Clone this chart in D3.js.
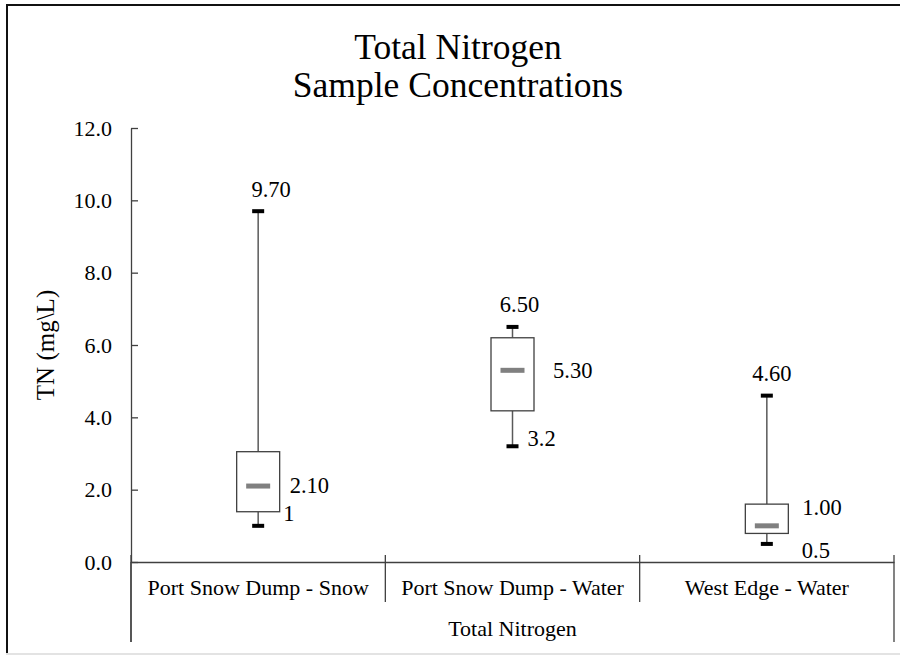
<!DOCTYPE html>
<html>
<head>
<meta charset="utf-8">
<script src="https://cdn.jsdelivr.net/npm/d3@7"></script>
<style>
  body { margin: 0; background: #fff; }
</style>
</head>
<body>
<div id="app"></div>
<script>
// box plot values
const categories = ["Port Snow Dump - Snow", "Port Snow Dump - Water", "West Edge - Water"];
const minValues = [1.0, 3.2, 0.5];
const q1Values = [1.39, 4.18, 0.79];
const medianValues = [2.10, 5.30, 1.00];
const q3Values = [3.05, 6.20, 1.60];
const maxValues = [9.70, 6.50, 4.60];
const maxLabels = ["9.70", "6.50", "4.60"];
const medianLabels = ["2.10", "5.30", "1.00"];
const minLabels = ["1", "3.2", "0.5"];
const yTicks = [0, 2, 4, 6, 8, 10, 12];
const groupLabel = "Total Nitrogen";
const titleLines = ["Total Nitrogen", "Sample Concentrations"];
const yTitle = "TN (mg\\L)";

const w = 900, h = 655;
const plotLeft = 131, plotRight = 894, plotTop = 128, plotBottom = 562;
const serif = "'Liberation Serif', 'Times New Roman', serif";

const svg = d3.select("#app")
  .append("svg")
  .attr("width", w)
  .attr("height", h)
  .style("display", "block")
  .style("font-family", serif);

// frame of the screenshot
svg.append("line").attr("x1", 6).attr("x2", w).attr("y1", 5).attr("y2", 5)
  .attr("stroke", "#111").attr("stroke-width", 2);
svg.append("line").attr("x1", 7).attr("x2", 7).attr("y1", 4).attr("y2", 653)
  .attr("stroke", "#111").attr("stroke-width", 2);
svg.append("line").attr("x1", 6).attr("x2", w).attr("y1", 654).attr("y2", 654)
  .attr("stroke", "#e3e3e3").attr("stroke-width", 2);

const rows = categories.map((c, i) => ({
  cat: c, min: minValues[i], q1: q1Values[i], med: medianValues[i],
  q3: q3Values[i], max: maxValues[i],
  maxLabel: maxLabels[i], medLabel: medianLabels[i], minLabel: minLabels[i]
}));

const xScale = d3.scaleBand()
  .domain(categories)
  .range([plotLeft, plotRight]);

const yScale = d3.scaleLinear()
  .domain([0, 12])
  .range([plotBottom, plotTop]);

// title, two separate lines
svg.selectAll(".title")
  .data(titleLines)
  .enter()
  .append("text")
  .attr("class", "title")
  .attr("x", 458)
  .attr("y", (d, i) => 59 + i * 38)
  .attr("text-anchor", "middle")
  .style("font-family", serif)
  .style("font-size", "35.5px")
  .attr("fill", "#000")
  .text(d => d);

// y axis, ticks pointing into the plot
const yAxis = d3.axisLeft(yScale)
  .tickValues(yTicks)
  .tickFormat(d3.format(".1f"))
  .tickSizeInner(-7)
  .tickSizeOuter(0)
  .tickPadding(19);

const gy = svg.append("g")
  .attr("id", "y-axis")
  .attr("transform", "translate(" + plotLeft + ",0)")
  .call(yAxis)
  .attr("font-family", null)
  .attr("font-size", null);
gy.selectAll("path, line").attr("stroke", "#404040").attr("stroke-width", 1.3);
gy.selectAll("text").style("font-family", serif).style("font-size", "22px").attr("fill", "#000");

// axis line carries on down past the table
svg.append("line")
  .attr("x1", plotLeft).attr("x2", plotLeft)
  .attr("y1", plotBottom).attr("y2", 642)
  .attr("stroke", "#404040").attr("stroke-width", 1.3);

svg.append("text")
  .attr("transform", "translate(54," + (plotTop + plotBottom) / 2 + ") rotate(-90)")
  .attr("text-anchor", "middle")
  .style("font-family", serif)
  .style("font-size", "25px")
  .attr("fill", "#000")
  .text(yTitle);

// x axis as a small table
const xAxis = d3.axisBottom(xScale).tickSize(0).tickPadding(17);
const gx = svg.append("g")
  .attr("id", "x-axis")
  .attr("transform", "translate(0," + plotBottom + ")")
  .call(xAxis)
  .attr("font-family", null)
  .attr("font-size", null);
gx.select(".domain").attr("stroke", "#404040").attr("stroke-width", 1.3);
gx.selectAll("text").style("font-family", serif).style("font-size", "22px").attr("fill", "#000");

const edges = [xScale(categories[0])].concat(categories.map(c => xScale(c) + xScale.bandwidth()));
svg.selectAll(".divider")
  .data(edges)
  .enter()
  .append("line")
  .attr("class", "divider")
  .attr("x1", d => d).attr("x2", d => d)
  .attr("y1", plotBottom - 7)
  .attr("y2", (d, i) => (i === 0 || i === edges.length - 1) ? 642 : 602)
  .attr("stroke", "#404040")
  .attr("stroke-width", 1.3);

svg.append("text")
  .attr("x", (plotLeft + plotRight) / 2)
  .attr("y", 636)
  .attr("text-anchor", "middle")
  .style("font-family", serif)
  .style("font-size", "22px")
  .attr("fill", "#000")
  .text(groupLabel);

// boxes
const boxW = 43, capW = 12, medW = 24;
const cx = d => xScale(d.cat) + xScale.bandwidth() / 2;

const box = svg.selectAll(".box")
  .data(rows)
  .enter()
  .append("g")
  .attr("class", "box");

box.append("line")
  .attr("x1", cx).attr("x2", cx)
  .attr("y1", d => yScale(d.max)).attr("y2", d => yScale(d.q3))
  .attr("stroke", "#595959").attr("stroke-width", 1.5);
box.append("line")
  .attr("x1", cx).attr("x2", cx)
  .attr("y1", d => yScale(d.q1)).attr("y2", d => yScale(d.min))
  .attr("stroke", "#595959").attr("stroke-width", 1.5);

box.append("rect")
  .attr("x", d => cx(d) - boxW / 2)
  .attr("y", d => yScale(d.q3))
  .attr("width", boxW)
  .attr("height", d => yScale(d.q1) - yScale(d.q3))
  .attr("fill", "#fff")
  .attr("stroke", "#404040")
  .attr("stroke-width", 1.3);

box.append("rect")
  .attr("x", d => cx(d) - medW / 2)
  .attr("y", d => yScale(d.med) - 2.5)
  .attr("width", medW)
  .attr("height", 5)
  .attr("fill", "#808080");

box.selectAll(".cap")
  .data(d => [d.max, d.min].map(v => ({ d: d, v: v })))
  .enter()
  .append("rect")
  .attr("class", "cap")
  .attr("x", e => cx(e.d) - capW / 2)
  .attr("y", e => yScale(e.v) - 2)
  .attr("width", capW)
  .attr("height", 4)
  .attr("fill", "#000");

// data labels, nudged like the original
const nudge = [
  { max: [13, -14], med: [10, 7], min: [25, -5] },
  { max: [7, -15], med: [19, 8], min: [15, 0] },
  { max: [5, -15], med: [14, -11], min: [35, 14] }
];

const labelText = sel => sel.style("font-family", serif).style("font-size", "22.5px").attr("fill", "#000");

box.append("text")
  .attr("x", (d, i) => cx(d) + nudge[i].max[0])
  .attr("y", (d, i) => yScale(d.max) + nudge[i].max[1])
  .attr("text-anchor", "middle")
  .call(labelText)
  .text(d => d.maxLabel);
box.append("text")
  .attr("x", (d, i) => cx(d) + boxW / 2 + nudge[i].med[0])
  .attr("y", (d, i) => yScale(d.med) + nudge[i].med[1])
  .call(labelText)
  .text(d => d.medLabel);
box.append("text")
  .attr("x", (d, i) => cx(d) + nudge[i].min[0])
  .attr("y", (d, i) => yScale(d.min) + nudge[i].min[1])
  .call(labelText)
  .text(d => d.minLabel);
</script>
</body>
</html>
